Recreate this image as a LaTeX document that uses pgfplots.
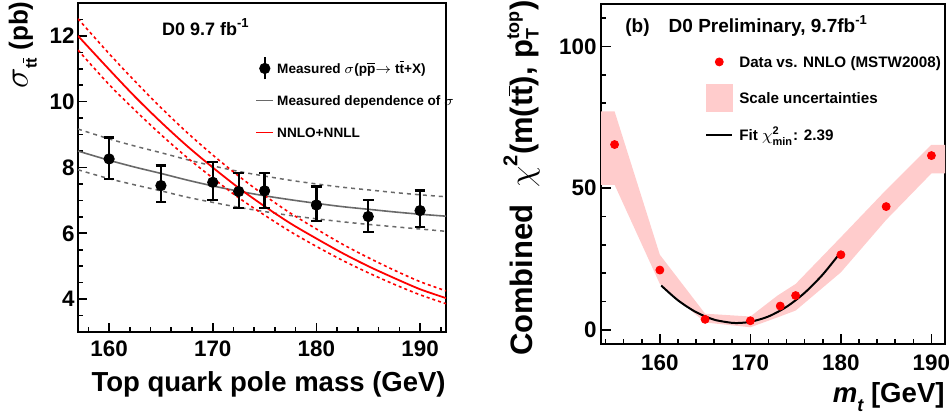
\documentclass[border=0pt]{standalone}
\usepackage{fontspec}
\setmainfont{Liberation Sans}
\usepackage{pgfplots}
\pgfplotsset{compat=1.18}

\definecolor{rootred}{RGB}{255,0,0}
\definecolor{bandpink}{RGB}{255,204,204}
\definecolor{dgray}{RGB}{105,105,105}

\newcommand{\fs}[1]{\fontsize{#1}{#1}\selectfont\bfseries}
\newcommand{\ob}[1]{\ensuremath{\overline{\mbox{#1}}}}

\pgfplotsset{
  rootaxis/.style={
    scale only axis,
    axis line style={line width=1pt},
    tick align=inside,
    tick pos=left,
    major tick length=4.5pt,
    minor tick length=2.5pt,
    every tick/.style={line width=0.8pt, black},
    ticklabel style={font=\fs{11.2}},
    /pgf/number format/assume math mode=true,
    legend cell align=left,
  }
}

\begin{document}
\begin{tikzpicture}
\useasboundingbox (-39pt,-42pt) rectangle (436.5pt,166pt);

% ---------------- left panel ----------------
\begin{axis}[rootaxis,
  at={(0pt,0pt)}, anchor=south west,
  width=184pt, height=164.5pt,
  xmin=157, xmax=192.5, ymin=3, ymax=13,
  xtick={160,170,180,190}, minor xtick={158,160,...,192},
  ytick={4,6,8,10,12}, minor ytick={3.5,4,...,13},
  xticklabel style={yshift=-1pt},
  yticklabel style={inner sep=1.5pt},
  xlabel={\fs{13.75}Top quark pole mass (GeV)},
  xlabel style={at={(axis description cs:1,-0.181)}, anchor=base east, inner sep=0pt},
  ylabel={{\fontsize{17}{17}\selectfont$\sigma$}\raisebox{-0.45em}{\fs{8}t\ob{t}}\fs{13}\ (pb)},
  ylabel style={at={(axis description cs:-0.137,1.006)}, anchor=base east, inner sep=0pt},
  legend style={at={(axis description cs:0.481,0.839)}, anchor=north west,
    draw=none, fill=none, inner sep=0pt, row sep=4pt, column sep=1pt,
    font=\fs{6.8}, nodes={inner sep=0.5pt, text height=7pt, text depth=2pt}},
]
\addlegendimage{black, legend image code/.code={
   \path[draw=none, fill=none] (0pt,-6pt) rectangle (8.5pt,6pt);
   \draw[black, line width=1.1pt] (4.25pt,-5.5pt) -- (4.25pt,5.5pt);
   \fill[black] (4.25pt,0pt) circle (2.6pt);}}
\addlegendentry{Measured $\sigma$(p\ob{p}$\rightarrow$ t\ob{t}+X)}
\addlegendimage{dgray, line width=0.8pt, legend image code/.code={
   \path[draw=none, fill=none] (0pt,-6pt) rectangle (8.5pt,6pt);
   \draw[dgray, line width=0.8pt] (0pt,0pt) -- (8.5pt,0pt);}}
\addlegendentry{Measured dependence of $\sigma$}
\addlegendimage{rootred, line width=0.9pt, legend image code/.code={
   \path[draw=none, fill=none] (0pt,-6pt) rectangle (8.5pt,6pt);
   \draw[rootred, line width=0.9pt] (0pt,0pt) -- (8.5pt,0pt);}}
\addlegendentry{NNLO+NNLL}

% gray dashed bounds
\addplot[dgray, line width=0.75pt, dash pattern=on 2pt off 2pt, smooth, forget plot] coordinates {
(157,9.17) (160,8.87) (162.5,8.65) (165,8.45) (167.5,8.24) (170,8.05) (172.5,7.88) (175,7.74)
(177.5,7.61) (180,7.50) (182.5,7.40) (185,7.32) (187.5,7.24) (190,7.17) (192.5,7.11)};
\addplot[dgray, line width=0.75pt, dash pattern=on 2pt off 2pt, smooth, forget plot] coordinates {
(157,7.93) (160,7.66) (162.5,7.47) (165,7.29) (167.5,7.10) (170,6.94) (172.5,6.79) (175,6.66)
(177.5,6.54) (180,6.44) (182.5,6.35) (185,6.27) (187.5,6.20) (190,6.13) (192.5,6.06)};
% gray solid
\addplot[dgray, line width=0.8pt, smooth, forget plot] coordinates {
(157,8.50) (160,8.22) (162.5,8.01) (165,7.82) (167.5,7.62) (170,7.44) (172.5,7.28) (175,7.14)
(177.5,7.02) (180,6.91) (182.5,6.81) (185,6.73) (187.5,6.65) (190,6.58) (192.5,6.52)};
% red dashed bounds
\addplot[rootred, line width=0.8pt, dash pattern=on 1.5pt off 1.5pt, smooth, forget plot] coordinates {
(157,12.52) (160,11.46) (162.5,10.62) (165,9.82) (167.5,9.07) (170,8.38) (172.5,7.74) (175,7.15)
(177.5,6.61) (180,6.13) (182.5,5.67) (185,5.26) (187.5,4.88) (190,4.53) (192.5,4.25)};
\addplot[rootred, line width=0.8pt, dash pattern=on 1.5pt off 1.5pt, smooth, forget plot] coordinates {
(157,11.57) (160,10.52) (162.5,9.74) (165,9.00) (167.5,8.31) (170,7.68) (172.5,7.08) (175,6.55)
(177.5,6.05) (180,5.60) (182.5,5.18) (185,4.80) (187.5,4.45) (190,4.13) (192.5,3.86)};
% red solid
\addplot[rootred, line width=0.9pt, smooth, forget plot] coordinates {
(157,12.00) (160,10.98) (162.5,10.15) (165,9.38) (167.5,8.66) (170,8.00) (172.5,7.38) (175,6.82)
(177.5,6.30) (180,5.84) (182.5,5.40) (185,5.00) (187.5,4.64) (190,4.30) (192.5,4.03)};
% measured points
\addplot[black, only marks, mark=*, mark size=2.6pt, forget plot,
  error bars/.cd, y dir=both, y explicit,
  error bar style={line width=1.1pt, black},
  error mark=-,
  error mark options={rotate=90, mark size=2.7pt, line width=1.1pt, black}]
 table[x=x, y=y, y error plus=ep, y error minus=em] {
x y ep em
160 8.26 0.65 0.61
165 7.45 0.61 0.51
170 7.55 0.61 0.54
172.5 7.27 0.57 0.51
175 7.29 0.55 0.52
180 6.86 0.56 0.48
185 6.51 0.51 0.46
190 6.69 0.61 0.49
};
\node[anchor=base west, inner sep=0pt, font=\fs{9}] at (axis description cs:0.2275,0.9027)
  {D0 9.7 fb\raisebox{0.8ex}{\fs{6.5}-1}};
\end{axis}

% ---------------- right panel ----------------
\begin{axis}[rootaxis,
  at={(261.5pt,-6pt)}, anchor=south west,
  width=172pt, height=170pt,
  xmin=153.5, xmax=191.5, ymin=-5, ymax=115,
  major tick length=5pt,
  xtick={160,170,180,190}, minor xtick={154,156,...,190},
  ytick={0,50,100}, minor ytick={0,10,...,110},
  xticklabel style={yshift=-2pt},
  yticklabel style={inner sep=2pt},
  xlabel={\fs{13.8}\itshape m\raisebox{-0.3em}{\fs{9}\itshape t}\upshape\ [GeV]},
  xlabel style={at={(axis description cs:1,-0.1735)}, anchor=base east, inner sep=0pt},
  ylabel={\fs{15.5}Combined\hspace{0.55em}{\fontsize{17}{17}\selectfont$\chi$}\raisebox{0.5em}{\fs{10}2}(m(t\ob{t}), p$^{\mbox{\fs{9}top}}_{\mbox{\fs{9}T}}$)},
  ylabel style={at={(axis description cs:-0.198,1.012)}, anchor=base east, inner sep=0pt},
  legend style={at={(axis description cs:0.302,0.869)}, anchor=north west,
    draw=none, fill=none, inner sep=0pt, row sep=4.75pt, column sep=3pt,
    font=\fs{7.6}, nodes={inner sep=0pt, text height=9.2pt, text depth=3.8pt}},
]
\addlegendimage{legend image code/.code={
   \fill[rootred] (6.5pt,0pt) circle (2pt);}}
\addlegendentry{Data vs. NNLO (MSTW2008)}
\addlegendimage{legend image code/.code={
   \fill[bandpink] (0pt,-6.75pt) rectangle (13pt,6.75pt);}}
\addlegendentry{Scale uncertainties}
\addlegendimage{legend image code/.code={
   \draw[black, line width=1pt] (0pt,0pt) -- (13pt,0pt);}}
\addlegendentry{Fit $\chi^{\mbox{\fs{5.5}2}}_{\mbox{\fs{5.5}min}}$: 2.39}

% scale uncertainty band
\addplot[fill=bandpink, draw=none, forget plot] coordinates {
(153.5,51.2) (155,51.2) (160,16.2) (165,2.6) (170,0.9) (173,4.4) (175,6.8) (180,20.3)
(185,38.8) (190,55.2) (191.5,55.2) (191.5,65.3) (190,65.3) (185,49.4) (180,32.7)
(175,16.2) (173,12.1) (170,4.7) (165,5.7) (160,26.5) (155,77.1) (153.5,77.1)} -- cycle;
% fit
\addplot[black, line width=1pt, smooth, forget plot] coordinates {
(160.15,15.64) (162,10.42) (164,6.24) (166,3.58) (168,2.44) (168.5,2.39) (170,2.82)
(172,4.72) (174,8.14) (176,13.08) (178,19.54) (179.9,27.08)};
% data
\addplot[rootred, only marks, mark=*, mark size=2pt, forget plot] coordinates {
(155,65.4) (160,21.1) (165,3.7) (170,3.2) (173.3,8.4) (175,12.1) (180,26.5) (185,43.5) (190,61.5)};
\node[anchor=base west, inner sep=0pt, font=\fs{9.5}] at (axis description cs:0.0698,0.9147) {(b)};
\node[anchor=base west, inner sep=0pt, font=\fs{9.5}] at (axis description cs:0.1957,0.9147)
  {D0 Preliminary, 9.7fb\raisebox{0.8ex}{\fs{6.5}-1}};
\end{axis}
\end{tikzpicture}
\end{document}
